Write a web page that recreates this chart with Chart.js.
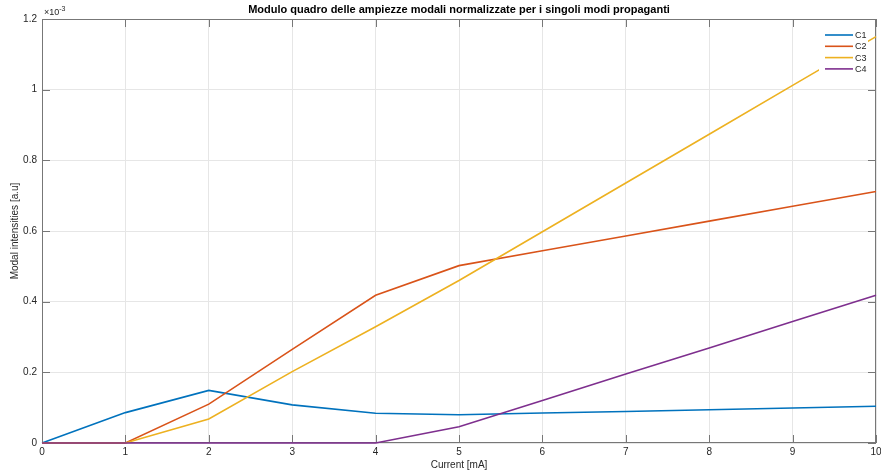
<!DOCTYPE html>
<html>
<head>
<meta charset="utf-8">
<script src="https://cdn.jsdelivr.net/npm/chart.js@4.4.1/dist/chart.umd.min.js"></script>
<style>
  html, body { margin: 0; padding: 0; background: #fff; }
  #wrap { width: 881px; height: 475px; }
</style>
</head>
<body>
<div id="wrap"><canvas id="chart" width="881" height="475"></canvas></div>
<script>
// dati (valori in unità reali, l'asse mostra x10^-3)
var currents = [0, 1, 2, 3, 4, 5, 6, 7, 8, 9, 10];
var c1 = [0, 0.086e-3, 0.149e-3, 0.108e-3, 0.084e-3, 0.080e-3, 0.085e-3, 0.089e-3, 0.094e-3, 0.099e-3, 0.104e-3];
var c2 = [0, 0, 0.110e-3, 0.265e-3, 0.418e-3, 0.502e-3, 0.544e-3, 0.586e-3, 0.628e-3, 0.670e-3, 0.712e-3];
var c3 = [0, 0, 0.068e-3, 0.202e-3, 0.329e-3, 0.460e-3, 0.598e-3, 0.736e-3, 0.874e-3, 1.012e-3, 1.150e-3];
var c4 = [0, 0, 0, 0, 0, 0.046e-3, 0.120e-3, 0.195e-3, 0.269e-3, 0.344e-3, 0.418e-3];
var seriesNames = ['C1', 'C2', 'C3', 'C4'];
var yTicks = [0, 0.2e-3, 0.4e-3, 0.6e-3, 0.8e-3, 1.0e-3, 1.2e-3];

var colors = ['#0072BD', '#D95319', '#EDB120', '#7E2F8E'];
var textColor = '#262626';
var axisColor = '#777777';

function toPoints(arr) {
    return arr.map(function(v, i) { return { x: currents[i], y: v }; });
}

// box, tacche interne ed esponente stile MATLAB
var axesBox = {
    id: 'axesBox',
    beforeDatasetsDraw: function(chart) {
        var ctx = chart.ctx, a = chart.chartArea;
        var xs = chart.scales.x, ys = chart.scales.y;
        ctx.save();
        ctx.strokeStyle = axisColor;
        ctx.lineWidth = 1;
        ctx.strokeRect(a.left + 0.5, a.top + 0.5, a.right - a.left - 1, a.bottom - a.top - 1);
        ctx.beginPath();
        currents.forEach(function(v) {
            var px = Math.round(xs.getPixelForValue(v)) + 0.5;
            ctx.moveTo(px, a.bottom); ctx.lineTo(px, a.bottom - 8);
            ctx.moveTo(px, a.top); ctx.lineTo(px, a.top + 8);
        });
        yTicks.forEach(function(v) {
            var py = Math.round(ys.getPixelForValue(v)) + 0.5;
            ctx.moveTo(a.left, py); ctx.lineTo(a.left + 8, py);
            ctx.moveTo(a.right, py); ctx.lineTo(a.right - 8, py);
        });
        ctx.stroke();
        ctx.restore();
    },
    afterDraw: function(chart) {
        var ctx = chart.ctx, a = chart.chartArea;
        ctx.save();
        ctx.fillStyle = textColor;
        ctx.textBaseline = 'alphabetic';
        ctx.font = '9px "Liberation Sans", Arial, sans-serif';
        ctx.fillText('\u00d710', a.left + 2, a.top - 4);
        var w = ctx.measureText('\u00d710').width;
        ctx.font = '7px "Liberation Sans", Arial, sans-serif';
        ctx.fillText('-3', a.left + 2 + w, a.top - 8);
        ctx.restore();
    }
};

// legenda dentro l'area del grafico
var innerLegend = {
    id: 'innerLegend',
    afterDatasetsDraw: function(chart) {
        var ctx = chart.ctx, a = chart.chartArea;
        var bx = a.right - 57, by = a.top + 7;
        ctx.save();
        ctx.fillStyle = '#ffffff';
        ctx.fillRect(bx, by, 49, 50);
        ctx.font = '9px "Liberation Sans", Arial, sans-serif';
        ctx.textBaseline = 'middle';
        seriesNames.forEach(function(name, i) {
            var y = by + 9 + i * 11.3;
            ctx.strokeStyle = colors[i];
            ctx.lineWidth = 1.6;
            ctx.beginPath();
            ctx.moveTo(bx + 6, y);
            ctx.lineTo(bx + 34, y);
            ctx.stroke();
            ctx.fillStyle = textColor;
            ctx.fillText(name, bx + 36, y + 0.5);
        });
        ctx.restore();
    }
};

var datasets = [c1, c2, c3, c4].map(function(arr, i) {
    return {
        label: seriesNames[i],
        data: toPoints(arr),
        borderColor: colors[i],
        backgroundColor: colors[i],
        borderWidth: 1.6,
        pointRadius: 0,
        tension: 0,
        fill: false,
        clip: 3,
        order: 3 - i // l'ultima serie sta sopra, come in MATLAB
    };
});

var ctx = document.getElementById('chart').getContext('2d');
var chart = new Chart(ctx, {
    type: 'line',
    data: { datasets: datasets },
    options: {
        responsive: false,
        animation: false,
        layout: { padding: { left: 0, right: 0, top: 0, bottom: 0 } },
        plugins: {
            legend: { display: false },
            tooltip: { enabled: false },
            title: {
                display: true,
                fullSize: false,
                text: 'Modulo quadro delle ampiezze modali normalizzate per i singoli modi propaganti',
                color: '#000000',
                font: { family: '"Liberation Sans", Arial, sans-serif', size: 11, weight: 'bold', lineHeight: 1.2 },
                padding: { top: 3, bottom: 2.8 }
            }
        },
        scales: {
            x: {
                type: 'linear',
                min: 0,
                max: 10,
                afterFit: function(scale) {
                    scale.height = 32;
                    scale.paddingLeft = 0;
                    scale.paddingRight = 5;
                },
                ticks: {
                    stepSize: 1,
                    color: textColor,
                    padding: 3,
                    font: { family: '"Liberation Sans", Arial, sans-serif', size: 10 }
                },
                grid: { color: '#e6e6e6', drawTicks: false },
                border: { display: false },
                title: {
                    display: true,
                    text: 'Current [mA]',
                    color: textColor,
                    font: { family: '"Liberation Sans", Arial, sans-serif', size: 10, lineHeight: 1.2 },
                    padding: { top: 0, bottom: 4 }
                }
            },
            y: {
                type: 'linear',
                min: 0,
                max: 1.2e-3,
                afterFit: function(scale) { scale.width = 42; },
                afterBuildTicks: function(scale) {
                    scale.ticks = yTicks.map(function(v) { return { value: v }; });
                },
                ticks: {
                    color: textColor,
                    padding: 5,
                    font: { family: '"Liberation Sans", Arial, sans-serif', size: 10 },
                    callback: function(v) { return String(+(v * 1000).toFixed(1)); }
                },
                grid: { color: '#e6e6e6', drawTicks: false },
                border: { display: false },
                title: {
                    display: true,
                    text: 'Modal intensities [a.u]',
                    color: textColor,
                    font: { family: '"Liberation Sans", Arial, sans-serif', size: 10, lineHeight: 1.2 },
                    padding: { top: 9, bottom: 0 }
                }
            }
        }
    },
    plugins: [axesBox, innerLegend]
});
</script>
</body>
</html>
